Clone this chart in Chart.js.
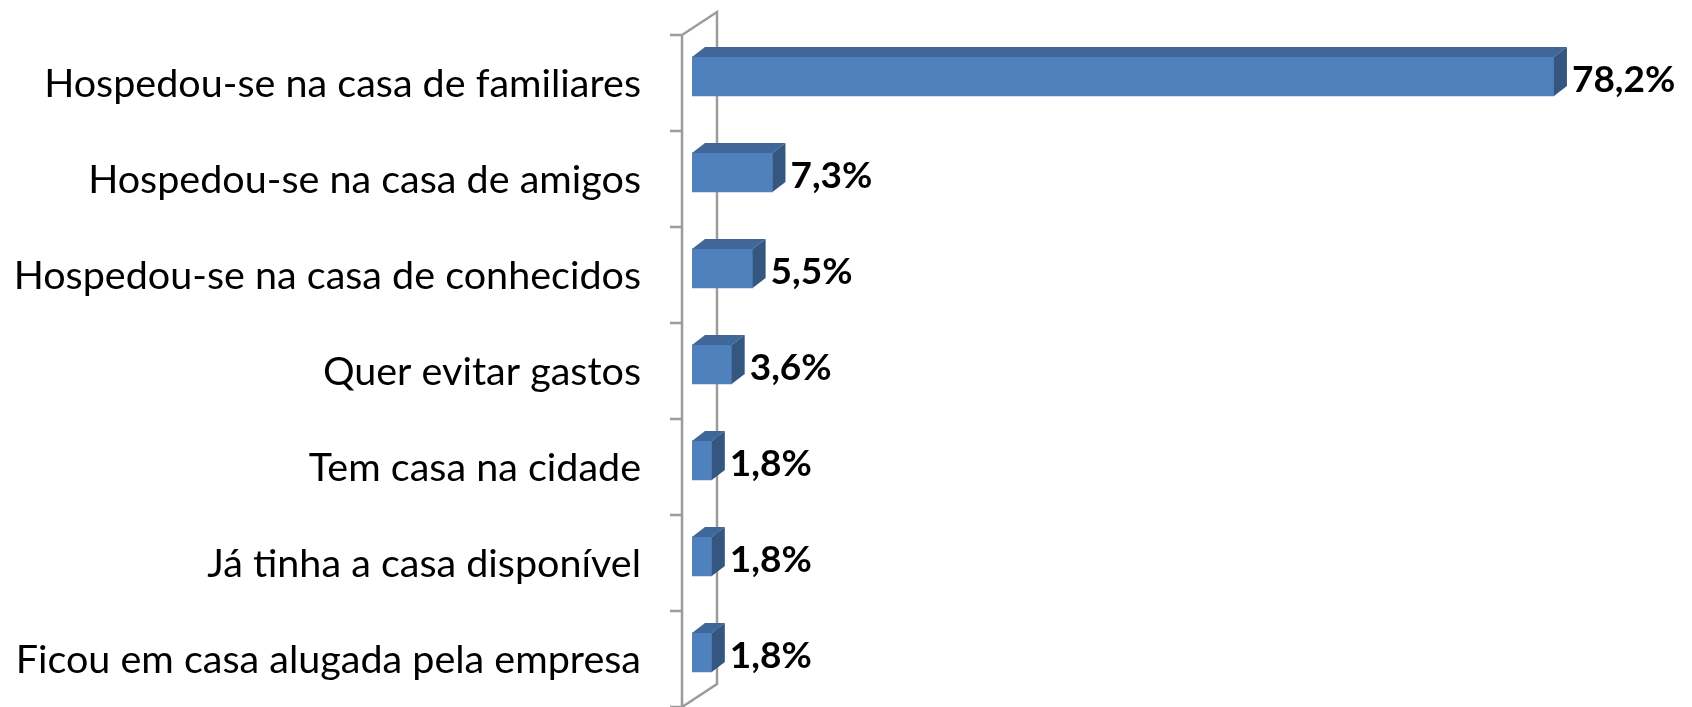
<!DOCTYPE html>
<html>
<head>
<meta charset="utf-8">
<script src="https://cdn.jsdelivr.net/npm/chart.js@4.4.1/dist/chart.umd.min.js"></script>
<style>
html,body{margin:0;padding:0;background:#fff;}
#wrap{width:1692px;height:707px;position:relative;}
</style>
</head>
<body>
<div id="wrap"><canvas id="c" width="1692" height="707"></canvas></div>
<script>
const categories = [
  "Hospedou-se na casa de familiares",
  "Hospedou-se na casa de amigos",
  "Hospedou-se na casa de conhecidos",
  "Quer evitar gastos",
  "Tem casa na cidade",
  "Já tinha a casa disponível",
  "Ficou em casa alugada pela empresa"
];
const values = [78.2, 7.3, 5.5, 3.6, 1.8, 1.8, 1.8];
const valueLabels = ["78,2%", "7,3%", "5,5%", "3,6%", "1,8%", "1,8%", "1,8%"];

const DX = 13, DY = 10;          // bar depth
const WDX = 35, WDY = 23;        // wall depth
const FRONT_SHIFT_X = 10, FRONT_SHIFT_Y = 6.5;

const wallPlugin = {
  id: 'walls',
  beforeDatasetsDraw(chart) {
    const ctx = chart.ctx, a = chart.chartArea;
    const fx = a.left - FRONT_SHIFT_X;
    const top = a.top + FRONT_SHIFT_Y, bot = a.bottom + FRONT_SHIFT_Y;
    const n = categories.length;
    const step = (a.bottom - a.top) / n;
    ctx.save();
    ctx.strokeStyle = '#9C9C9C';
    ctx.lineWidth = 2.5;
    ctx.beginPath();
    ctx.moveTo(fx, top); ctx.lineTo(fx, bot);
    ctx.moveTo(fx, top); ctx.lineTo(fx + WDX, top - WDY); ctx.lineTo(fx + WDX, bot - WDY); ctx.lineTo(fx, bot);
    for (let i = 0; i <= n; i++) {
      const y = a.top + i * step + FRONT_SHIFT_Y;
      ctx.moveTo(fx - 12, y); ctx.lineTo(fx, y);
    }
    ctx.stroke();
    ctx.restore();
  },
  afterDatasetsDraw(chart) {
    const ctx = chart.ctx;
    const meta = chart.getDatasetMeta(0);
    ctx.save();
    meta.data.forEach((bar, i) => {
      const p = bar.getProps(['x', 'y', 'base', 'height'], true);
      const t = p.y - p.height / 2, b = p.y + p.height / 2;
      ctx.fillStyle = '#3F6899';
      ctx.beginPath();
      ctx.moveTo(p.base, t); ctx.lineTo(p.base + DX, t - DY);
      ctx.lineTo(p.x + DX, t - DY); ctx.lineTo(p.x, t); ctx.closePath(); ctx.fill();
      ctx.fillStyle = '#34567F';
      ctx.beginPath();
      ctx.moveTo(p.x, t); ctx.lineTo(p.x + DX, t - DY);
      ctx.lineTo(p.x + DX, b - DY); ctx.lineTo(p.x, b); ctx.closePath(); ctx.fill();
      ctx.fillStyle = '#000';
      ctx.font = 'bold 37px Lato';
      ctx.textAlign = 'left';
      ctx.textBaseline = 'middle';
      ctx.fillText(valueLabels[i], p.x + DX + 5, p.y + 4);
    });
    ctx.restore();
  }
};

new Chart(document.getElementById('c'), {
  type: 'bar',
  data: {
    labels: categories,
    datasets: [{
      data: values,
      backgroundColor: '#4F81BD',
      borderWidth: 0,
      barThickness: 39
    }]
  },
  options: {
    indexAxis: 'y',
    responsive: false,
    animation: false,
    layout: { padding: { left: 0, right: 8, top: 28.5, bottom: 6.5 } },
    plugins: { legend: { display: false }, tooltip: { enabled: false } },
    scales: {
      x: { display: false, min: 0, max: 90 },
      y: {
        afterFit(s) { s.width = 692; s.paddingTop = 0; s.paddingBottom = 0; },
        grid: { display: false, drawTicks: false },
        border: { display: false },
        ticks: {
          padding: 51,
          labelOffset: 8,
          color: '#000',
          font: { family: 'Lato', size: 39.5 }
        }
      }
    }
  },
  plugins: [wallPlugin]
});
</script>
</body>
</html>
